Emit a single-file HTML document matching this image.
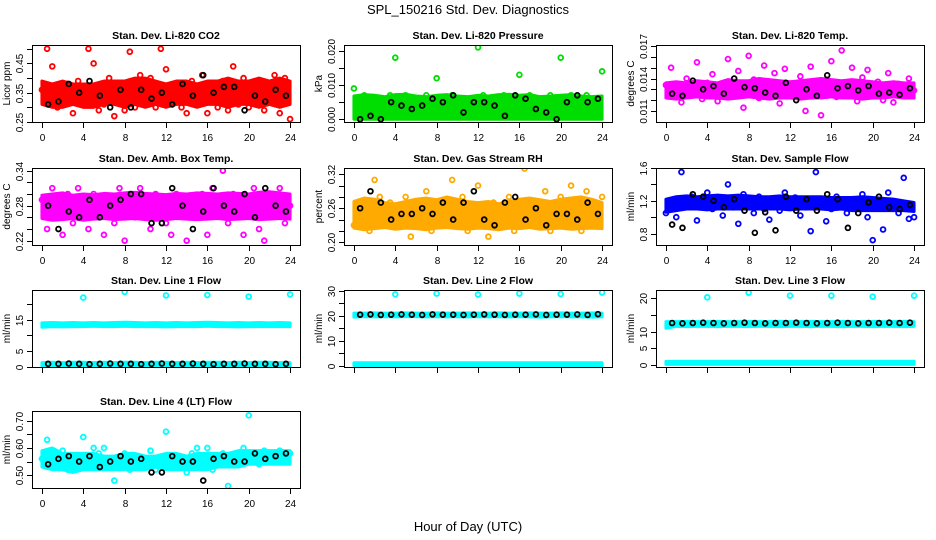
<!DOCTYPE html>
<html><head><meta charset="utf-8"><style>
html,body{margin:0;padding:0;background:#fff;}
svg{display:block;font-family:"Liberation Sans",sans-serif;}
</style></head><body>
<svg id="chart" width="936" height="540" viewBox="0 0 936 540">
<text x="468" y="14" text-anchor="middle" font-size="13">SPL_150216  Std. Dev. Diagnostics</text>
<text x="468" y="531" text-anchor="middle" font-size="13">Hour of Day (UTC)</text>
</svg>
<script>
// shared categories
const halfHours = [0,0.5,1,1.5,2,2.5,3,3.5,4,4.5,5,5.5,6,6.5,7,7.5,8,8.5,9,9.5,10,10.5,11,11.5,12,12.5,13,13.5,14,14.5,15,15.5,16,16.5,17,17.5,18,18.5,19,19.5,20,20.5,21,21.5,22,22.5,23,23.5,24];
const bandHours = [0,1,2,3,4,5,6,7,8,9,10,11,12,13,14,15,16,17,18,19,20,21,22,23,24];
const blackHours = [0.6,1.6,2.6,3.6,4.6,5.6,6.6,7.6,8.6,9.6,10.6,11.6,12.6,13.6,14.6,15.6,16.6,17.6,18.6,19.6,20.6,21.6,22.6,23.6];
const outlierHours = [4,8,12,16,20,24];
const xTicks = [0,4,8,12,16,20,24];

// CO2
const co2Lo = [0.31,0.30,0.30,0.31,0.30,0.30,0.31,0.31,0.30,0.31,0.30,0.31,0.30,0.31,0.31,0.30,0.31,0.31,0.30,0.31,0.31,0.30,0.31,0.30,0.31];
const co2Hi = [0.39,0.38,0.39,0.38,0.38,0.38,0.39,0.39,0.39,0.40,0.40,0.39,0.38,0.39,0.39,0.38,0.39,0.39,0.40,0.39,0.39,0.40,0.39,0.40,0.39];
const co2Pts = [0.36,0.50,0.44,0.30,0.32,0.38,0.28,0.39,0.33,0.50,0.45,0.29,0.31,0.40,0.27,0.38,0.29,0.49,0.30,0.41,0.32,0.40,0.30,0.50,0.43,0.32,0.37,0.30,0.28,0.39,0.33,0.41,0.28,0.36,0.30,0.39,0.29,0.44,0.31,0.40,0.30,0.38,0.31,0.29,0.36,0.41,0.28,0.40,0.26];
const co2Blk = [0.31,0.32,0.38,0.35,0.39,0.34,0.30,0.36,0.30,0.36,0.33,0.35,0.31,0.38,0.34,0.41,0.35,0.37,0.37,0.29,0.34,0.32,0.36,0.34];
const co2Ticks = [0.25,0.30,0.35,0.40,0.45,0.50];
const co2Labels = ["0.25","","0.35","","0.45",""];

// Pressure
const presLo = [0,0,0,0,0,0,0,0,0,0,0,0,0,0,0,0,0,0,0,0,0,0,0,0,0];
const presHi = [0.0068,0.0072,0.0070,0.0066,0.0072,0.0073,0.0068,0.0066,0.0070,0.0072,0.0068,0.0066,0.0070,0.0068,0.0072,0.0073,0.0070,0.0072,0.0066,0.0068,0.0070,0.0072,0.0068,0.0066,0.0068];
const presPts = [0.009,0.006,0.007,0.002,0.005,0.001,0.006,0.007,0.018,0.003,0.007,0.002,0.006,0.001,0.007,0.004,0.012,0.005,0.003,0.007,0.002,0.006,0.005,0.001,0.021,0.007,0.003,0.006,0.002,0.007,0.004,0.006,0.013,0.001,0.007,0.005,0.003,0.006,0.007,0.002,0.018,0.006,0.007,0.001,0.005,0.007,0.003,0.006,0.014];
const presBlk = [0.000,0.001,0.000,0.005,0.004,0.003,0.004,0.006,0.005,0.007,0.002,0.005,0.005,0.004,0.001,0.007,0.006,0.003,0.002,0.000,0.005,0.007,0.005,0.006];
const presTicks = [0,0.005,0.010,0.015,0.020];
const presLabels = ["0.000","","0.010","","0.020"];

// Li-820 Temp
const tempLo = [0.0122,0.0121,0.0122,0.0123,0.0122,0.0122,0.0121,0.0122,0.0123,0.0122,0.0121,0.0122,0.0122,0.0121,0.0122,0.0122,0.0123,0.0122,0.0122,0.0121,0.0122,0.0122,0.0123,0.0122,0.0122];
const tempHi = [0.0136,0.0137,0.0136,0.0138,0.0137,0.0136,0.0139,0.0138,0.0138,0.0140,0.0139,0.0138,0.0137,0.0138,0.0139,0.0140,0.0139,0.0138,0.0139,0.0138,0.0137,0.0136,0.0137,0.0136,0.0136];
const tempPts = [0.0134,0.0150,0.0125,0.0118,0.0140,0.0128,0.0155,0.0121,0.0136,0.0144,0.0119,0.0131,0.0158,0.0126,0.0147,0.0113,0.0161,0.0139,0.0122,0.0152,0.0130,0.0145,0.0117,0.0149,0.0133,0.0124,0.0142,0.0110,0.0151,0.0127,0.0106,0.0138,0.0156,0.0123,0.0166,0.0131,0.0150,0.0119,0.0141,0.0148,0.0126,0.0137,0.0120,0.0145,0.0118,0.0135,0.0124,0.0140,0.0129];
const tempBlk = [0.0126,0.0124,0.0138,0.0130,0.0133,0.0126,0.0140,0.0132,0.0131,0.0127,0.0124,0.0136,0.0120,0.0130,0.0124,0.0143,0.0131,0.0133,0.0129,0.0133,0.0126,0.0127,0.0125,0.0131];
const tempTicks = [0.011,0.012,0.013,0.014,0.015,0.016,0.017];
const tempLabels = ["0.011","","","0.014","","","0.017"];

// Amb box temp
const ambLo = [0.258,0.255,0.256,0.258,0.255,0.257,0.258,0.256,0.257,0.258,0.256,0.255,0.256,0.258,0.257,0.256,0.257,0.258,0.256,0.257,0.258,0.256,0.257,0.258,0.257];
const ambHi = [0.298,0.300,0.302,0.298,0.300,0.299,0.301,0.300,0.302,0.303,0.301,0.300,0.299,0.301,0.300,0.302,0.301,0.300,0.302,0.301,0.300,0.303,0.304,0.302,0.300];
const ambPts = [0.29,0.24,0.31,0.27,0.23,0.30,0.25,0.31,0.28,0.24,0.30,0.26,0.23,0.29,0.25,0.31,0.22,0.30,0.26,0.31,0.28,0.24,0.30,0.27,0.25,0.23,0.30,0.28,0.22,0.29,0.26,0.30,0.23,0.31,0.28,0.34,0.25,0.30,0.27,0.23,0.29,0.31,0.24,0.22,0.30,0.27,0.31,0.25,0.28];
const ambBlk = [0.28,0.24,0.27,0.26,0.29,0.26,0.28,0.29,0.30,0.30,0.25,0.25,0.31,0.28,0.24,0.27,0.31,0.28,0.27,0.30,0.26,0.31,0.28,0.27];
const ambTicks = [0.22,0.24,0.26,0.28,0.30,0.32,0.34];
const ambLabels = ["0.22","","","0.28","","","0.34"];

// Gas stream RH
const rhLo = [0.225,0.222,0.224,0.226,0.223,0.225,0.224,0.222,0.225,0.226,0.224,0.223,0.225,0.224,0.222,0.225,0.224,0.226,0.223,0.224,0.225,0.223,0.224,0.225,0.224];
const rhHi = [0.272,0.278,0.276,0.270,0.268,0.272,0.276,0.278,0.275,0.280,0.276,0.272,0.270,0.272,0.268,0.272,0.276,0.278,0.275,0.272,0.276,0.278,0.280,0.276,0.270];
const rhPts = [0.23,0.27,0.25,0.22,0.31,0.28,0.24,0.27,0.23,0.25,0.28,0.21,0.26,0.24,0.29,0.22,0.25,0.27,0.23,0.31,0.26,0.28,0.22,0.25,0.30,0.23,0.21,0.27,0.24,0.26,0.28,0.22,0.25,0.33,0.23,0.27,0.24,0.29,0.22,0.26,0.28,0.23,0.30,0.25,0.22,0.29,0.26,0.23,0.28];
const rhBlk = [0.26,0.29,0.27,0.24,0.25,0.25,0.26,0.25,0.27,0.24,0.27,0.29,0.24,0.23,0.27,0.28,0.24,0.26,0.23,0.25,0.25,0.24,0.27,0.25];
const rhTicks = [0.20,0.22,0.24,0.26,0.28,0.30,0.32];
const rhLabels = ["0.20","","","0.26","","","0.32"];

// Sample flow
const sfLo = [1.06,1.08,1.10,1.10,1.09,1.10,1.10,1.10,1.10,1.10,1.10,1.10,1.09,1.10,1.10,1.10,1.09,1.10,1.08,1.08,1.08,1.08,1.08,1.08,1.07];
const sfHi = [1.22,1.25,1.26,1.25,1.26,1.27,1.26,1.27,1.26,1.25,1.25,1.26,1.25,1.25,1.25,1.25,1.24,1.24,1.24,1.25,1.24,1.23,1.22,1.20,1.18];
const sfPts = [1.05,1.20,1.00,1.55,1.15,1.25,0.96,1.18,1.30,1.10,1.22,1.02,1.40,1.12,0.92,1.28,1.15,1.05,1.25,1.10,0.97,1.20,1.08,1.30,1.15,1.24,1.02,1.12,0.83,1.55,1.20,0.95,1.10,1.25,1.18,1.05,1.22,1.10,1.28,1.00,0.72,1.18,0.85,1.30,1.12,1.05,1.48,0.98,1.00];
const sfBlk = [0.91,0.87,1.28,1.25,1.20,1.12,1.22,1.08,0.81,1.06,0.84,1.25,1.08,1.22,1.08,1.28,1.22,0.87,1.05,1.18,1.25,1.12,1.10,1.15];
const sfTicks = [0.8,1.0,1.2,1.4,1.6];
const sfLabels = ["0.8","","1.2","","1.6"];

// Line 1 flow
const l1HiLo = [12.6,12.8,12.7,12.8,12.8,12.9,12.8,12.8,12.9,12.8,12.8,12.8,12.7,12.8,12.8,12.8,12.9,12.8,12.8,12.7,12.8,12.8,12.8,12.8,12.8];
const l1HiHi = [14.0,14.1,14.0,14.1,14.0,14.1,14.0,14.1,14.2,14.1,14.0,14.1,14.0,14.1,14.0,14.1,14.2,14.1,14.0,14.1,14.0,14.1,14.0,14.1,14.0];
const l1LoLo = [0.3,0.3,0.3,0.3,0.3,0.3,0.3,0.3,0.3,0.3,0.3,0.3,0.3,0.3,0.3,0.3,0.3,0.3,0.3,0.3,0.3,0.3,0.3,0.3,0.3];
const l1LoHi = [1.4,1.5,1.4,1.5,1.5,1.4,1.5,1.4,1.5,1.5,1.4,1.5,1.5,1.4,1.5,1.4,1.5,1.5,1.4,1.5,1.4,1.5,1.5,1.4,1.4];
const l1Out = [22.0,23.8,22.7,22.8,22.3,23.0];
const l1Blk = [1.0,1.0,1.1,1.0,0.9,1.0,1.1,1.0,1.0,0.9,1.0,1.1,1.0,1.0,1.1,1.0,0.9,1.0,1.0,1.1,1.0,1.0,0.9,1.0];
const l1Ticks = [0,5,10,15,20];
const l1Labels = ["0","5","","15",""];

// Line 2 flow
const l2HiLo = [19.4,19.6,19.5,19.6,19.5,19.6,19.6,19.5,19.6,19.5,19.6,19.5,19.6,19.5,19.6,19.5,19.6,19.5,19.4,19.5,19.6,19.5,19.5,19.4,19.5];
const l2HiHi = [21.0,21.0,21.1,21.0,21.0,21.1,21.0,21.0,21.1,21.0,21.0,21.1,21.0,21.0,21.1,21.0,21.0,21.1,21.0,21.0,21.1,21.0,21.0,21.1,21.0];
const l2LoLo = [0.2,0.2,0.2,0.2,0.2,0.2,0.2,0.2,0.2,0.2,0.2,0.2,0.2,0.2,0.2,0.2,0.2,0.2,0.2,0.2,0.2,0.2,0.2,0.2,0.2];
const l2LoHi = [1.3,1.3,1.3,1.3,1.3,1.3,1.3,1.3,1.3,1.3,1.3,1.3,1.3,1.3,1.3,1.3,1.3,1.3,1.3,1.3,1.3,1.3,1.3,1.3,1.3];
const l2Out = [28.5,28.8,28.4,28.8,28.6,29.2];
const l2Blk = [20.4,20.5,20.3,20.4,20.5,20.4,20.3,20.5,20.4,20.4,20.3,20.4,20.5,20.4,20.3,20.4,20.4,20.5,20.3,20.4,20.4,20.5,20.3,20.6];
const l2Ticks = [0,5,10,15,20,25,30];
const l2Labels = ["0","","10","","20","","30"];

// Line 3 flow
const l3HiLo = [11.0,11.6,11.5,11.6,11.6,11.5,11.6,11.6,11.5,11.6,11.6,11.5,11.6,11.6,11.5,11.6,11.6,11.5,11.6,11.6,11.5,11.6,11.6,11.5,11.6];
const l3HiHi = [13.0,13.0,13.1,13.0,13.0,13.1,13.0,13.0,13.1,13.0,13.0,13.1,13.0,13.0,13.1,13.0,13.0,13.1,13.0,13.0,13.1,13.0,13.0,13.1,13.0];
const l3LoLo = [0.2,0.2,0.2,0.2,0.2,0.2,0.2,0.2,0.2,0.2,0.2,0.2,0.2,0.2,0.2,0.2,0.2,0.2,0.2,0.2,0.2,0.2,0.2,0.2,0.2];
const l3LoHi = [1.1,1.1,1.1,1.1,1.1,1.1,1.1,1.1,1.1,1.1,1.1,1.1,1.1,1.1,1.1,1.1,1.1,1.1,1.1,1.1,1.1,1.1,1.1,1.1,1.1];
const l3Out = [20.3,21.7,20.8,20.8,20.5,20.8];
const l3Blk = [12.6,12.5,12.6,12.7,12.6,12.5,12.6,12.7,12.6,12.5,12.6,12.6,12.7,12.6,12.5,12.6,12.7,12.6,12.5,12.6,12.6,12.7,12.6,12.7];
const l3Ticks = [0,5,10,15,20];
const l3Labels = ["0","5","10","","20"];

// Line 4 flow
const l4Lo = [0.53,0.52,0.52,0.51,0.52,0.52,0.52,0.52,0.52,0.52,0.52,0.53,0.52,0.52,0.52,0.52,0.52,0.53,0.53,0.53,0.54,0.54,0.54,0.54,0.54];
const l4Hi = [0.59,0.60,0.58,0.58,0.58,0.58,0.57,0.57,0.58,0.58,0.57,0.57,0.58,0.58,0.57,0.58,0.58,0.58,0.58,0.59,0.59,0.59,0.59,0.59,0.59];
const l4Pts = [0.56,0.63,0.58,0.54,0.59,0.52,0.57,0.55,0.64,0.53,0.60,0.58,0.60,0.55,0.48,0.56,0.58,0.52,0.57,0.54,0.55,0.59,0.52,0.56,0.66,0.53,0.57,0.55,0.51,0.58,0.60,0.54,0.60,0.52,0.56,0.58,0.46,0.57,0.55,0.60,0.72,0.58,0.54,0.59,0.57,0.55,0.59,0.56,0.58];
const l4Blk = [0.54,0.56,0.57,0.55,0.57,0.53,0.55,0.57,0.55,0.56,0.51,0.51,0.57,0.55,0.55,0.48,0.56,0.57,0.55,0.55,0.58,0.56,0.57,0.58];
const l4Ticks = [0.50,0.55,0.60,0.65,0.70];
const l4Labels = ["0.50","","0.60","","0.70"];

const NS = "http://www.w3.org/2000/svg";
const svg = document.getElementById("chart");
const colX = [32, 344, 656], rowY = [45, 168, 290, 411], PW = 268, PH = 77;

function mk(tag, attrs, parent) {
  const e = document.createElementNS(NS, tag);
  for (const k in attrs) e.setAttribute(k, attrs[k]);
  parent.appendChild(e);
  return e;
}

function panel(p) {
  const x0 = colX[p.col], y0 = rowY[p.row];
  const g = mk("g", {}, svg);
  
  
  const xs = h => x0 + PW * ((h + 0.96) / 25.92);
  const ys = v => y0 + PH - PH * (v - p.ymin) / (p.ymax - p.ymin);
  const clipId = "c" + p.name;
  const cp = mk("clipPath", { id: clipId }, g);
  mk("rect", { x: x0, y: y0, width: PW, height: PH }, cp);
  const data = mk("g", { "clip-path": "url(#" + clipId + ")" }, g);
  (p.bands || []).forEach(b => {
    let pts = bandHours.map((h, i) => xs(h) + "," + ys(b[1][i]));
    pts = pts.concat(bandHours.map((h, i) => xs(h) + "," + ys(b[0][i])).reverse());
    const poly = mk("polygon", { points: pts.join(" "), fill: p.color, stroke: p.color, "stroke-width": 3, "stroke-linejoin": "round" }, data);
    
    
  });
  if (p.pts) {
    const hrs = p.ptsH || halfHours;
    p.pts.forEach((v, i) => {
      const c = mk("circle", { cx: xs(hrs[i]), cy: ys(v), r: 2.4, fill: "none", stroke: p.color, "stroke-width": 1.8 }, data);
      
      
    });
  }
  if (p.blk) {
    p.blk.forEach((v, i) => {
      const c = mk("circle", { cx: xs(blackHours[i]), cy: ys(v), r: 2.4, fill: "none", stroke: "#000", "stroke-width": 1.8 }, data);
      
      
    });
  }
  const box = mk("rect", { x: x0 + 0.5, y: y0 + 0.5, width: PW, height: PH, fill: "none", stroke: "#000", "stroke-width": 1 }, g);
  
  
  const t = mk("text", { x: x0 + PW / 2, y: y0 - 6, "text-anchor": "middle", "font-size": 10.5, "font-weight": "bold" }, g);
  t.textContent = p.title;
  
  
  xTicks.forEach(h => {
    const X = Math.round(xs(h)) + 0.5;
    mk("line", { x1: X, x2: X, y1: y0 + PH + 1, y2: y0 + PH + 6, stroke: "#000" }, g);
    if (p.row !== 2) {
      const lt = mk("text", { x: X, y: y0 + PH + 19, "text-anchor": "middle", "font-size": 10 }, g);
      lt.textContent = h;
      
      
    }
  });
  p.ticks.forEach((v, i) => {
    const Y = Math.round(ys(v)) + 0.5;
    mk("line", { x1: x0 - 5, x2: x0, y1: Y, y2: Y, stroke: "#000" }, g);
    if (p.labels[i]) {
      const lx = x0 - 9, lt = mk("text", { x: lx, y: Y, "text-anchor": "middle", "font-size": 10, transform: "rotate(-90 " + lx + " " + Y + ")" }, g);
      lt.textContent = p.labels[i];
      
      
    }
  });
  const yx = x0 - 22, yy = y0 + PH / 2;
  const yt = mk("text", { x: yx, y: yy, "text-anchor": "middle", "font-size": 10, transform: "rotate(-90 " + yx + " " + yy + ")" }, g);
  yt.textContent = p.ylab;
  
  
}

panel({ name: "co2-panel", col: 0, row: 0, title: "Stan. Dev. Li-820 CO2", ylab: "Licor ppm", color: "#ff0000", ymin: 0.25, ymax: 0.513, bands: [[co2Lo, co2Hi]], pts: co2Pts, blk: co2Blk, ticks: co2Ticks, labels: co2Labels });
panel({ name: "pressure-panel", col: 1, row: 0, title: "Stan. Dev. Li-820 Pressure", ylab: "kPa", color: "#00dd00", ymin: -0.0008, ymax: 0.0217, bands: [[presLo, presHi]], pts: presPts, blk: presBlk, ticks: presTicks, labels: presLabels });
panel({ name: "temp-panel", col: 2, row: 0, title: "Stan. Dev. Li-820 Temp.", ylab: "degrees C", color: "#ff00ff", ymin: 0.00998, ymax: 0.0171, bands: [[tempLo, tempHi]], pts: tempPts, blk: tempBlk, ticks: tempTicks, labels: tempLabels });
panel({ name: "amb-box-panel", col: 0, row: 1, title: "Stan. Dev. Amb. Box Temp.", ylab: "degrees C", color: "#ff00ff", ymin: 0.2126, ymax: 0.3446, bands: [[ambLo, ambHi]], pts: ambPts, blk: ambBlk, ticks: ambTicks, labels: ambLabels });
panel({ name: "rh-panel", col: 1, row: 1, title: "Stan. Dev. Gas Stream RH", ylab: "percent", color: "#ffaa00", ymin: 0.1952, ymax: 0.331, bands: [[rhLo, rhHi]], pts: rhPts, blk: rhBlk, ticks: rhTicks, labels: rhLabels });
panel({ name: "sample-flow-panel", col: 2, row: 1, title: "Stan. Dev. Sample Flow", ylab: "ml/min", color: "#0000ff", ymin: 0.661, ymax: 1.6, bands: [[sfLo, sfHi]], pts: sfPts, blk: sfBlk, ticks: sfTicks, labels: sfLabels });
panel({ name: "line1-panel", col: 0, row: 2, title: "Stan. Dev. Line 1 Flow", ylab: "ml/min", color: "#00ffff", ymin: 0, ymax: 24.4, bands: [[l1HiLo, l1HiHi], [l1LoLo, l1LoHi]], pts: l1Out, ptsH: outlierHours, blk: l1Blk, ticks: l1Ticks, labels: l1Labels });
panel({ name: "line2-panel", col: 1, row: 2, title: "Stan. Dev. Line 2 Flow", ylab: "ml/min", color: "#00ffff", ymin: -0.4, ymax: 30.2, bands: [[l2HiLo, l2HiHi], [l2LoLo, l2LoHi]], pts: l2Out, ptsH: outlierHours, blk: l2Blk, ticks: l2Ticks, labels: l2Labels });
panel({ name: "line3-panel", col: 2, row: 2, title: "Stan. Dev. Line 3 Flow", ylab: "ml/min", color: "#00ffff", ymin: -0.6, ymax: 22.5, bands: [[l3HiLo, l3HiHi], [l3LoLo, l3LoHi]], pts: l3Out, ptsH: outlierHours, blk: l3Blk, ticks: l3Ticks, labels: l3Labels });
panel({ name: "line4-panel", col: 0, row: 3, title: "Stan. Dev. Line 4 (LT) Flow", ylab: "ml/min", color: "#00ffff", ymin: 0.4527, ymax: 0.736, bands: [[l4Lo, l4Hi]], pts: l4Pts, blk: l4Blk, ticks: l4Ticks, labels: l4Labels });
</script>
</body></html>
